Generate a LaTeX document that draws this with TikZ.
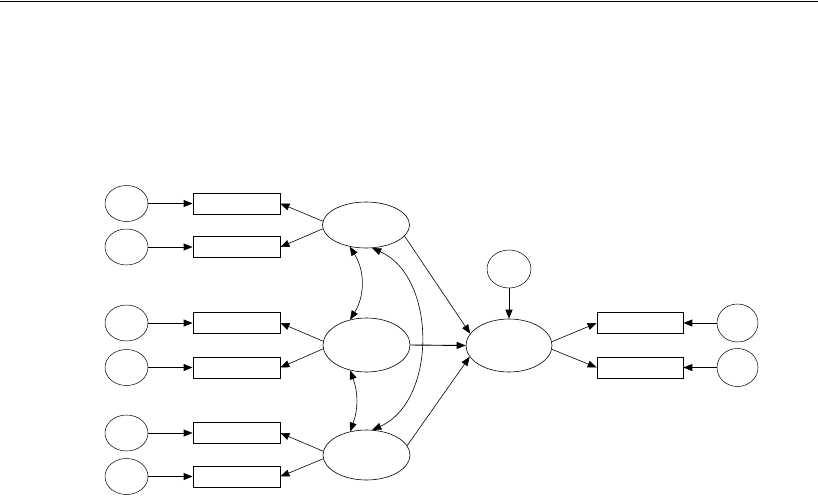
\documentclass[tikz,border=0pt]{standalone}
\usetikzlibrary{arrows.meta,shapes.geometric}
\begin{document}
\begin{tikzpicture}[x=1pt,y=-1pt,
  obs/.style={draw,rectangle,line width=0.8pt,minimum width=87pt,minimum height=21pt,inner sep=0pt},
  err/.style={draw,ellipse,line width=0.5pt,minimum width=43pt,minimum height=36pt,inner sep=0pt},
  lat/.style={draw,ellipse,line width=0.6pt,minimum width=87pt,inner sep=0pt},
  tip/.style={-{Triangle[length=9pt,width=7pt]}},
  eline/.style={tip,line width=0.9pt},
  pline/.style={tip,line width=0.6pt},
  cov/.style={{Triangle[length=9pt,width=7pt]}-{Triangle[length=9pt,width=7pt]},line width=0.6pt}]
\useasboundingbox (0,0) rectangle (818,496);
\draw[line width=1.3pt] (0,1.5) coordinate (lineL) -- (818,1.5) coordinate (lineR);
% left observed and errors
\foreach \i/\yy in {1/203.5,2/247,3/323,4/367.5,5/433,6/476.5}{
  \node[obs] (x\i) at (236.5,\yy) {};
  \node[err] (e\i) at (126.5,\yy) {};
  \draw[eline] (e\i) -- (x\i);
}
% latents
\node[lat,minimum height=46pt] (F1) at (366,225) {};
\node[lat,minimum height=54pt] (F2) at (366.5,345) {};
\node[lat,minimum height=50pt] (F3) at (366.5,455) {};
\node[lat,minimum width=86pt,minimum height=53pt] (Y) at (509,345.5) {};
\node[err,minimum width=44pt,minimum height=38pt] (D) at (509,269) {};
% right observed
\foreach \i/\yy in {1/323,2/367.5}{
  \node[obs,minimum width=86pt] (y\i) at (640,\yy) {};
  \node[err,minimum width=41pt,minimum height=38pt] (r\i) at (737.5,\yy) {};
  \draw[eline] (r\i) -- (y\i);
}
% loadings
\draw[pline] (F1.175) -- (x1.east);
\draw[pline] (F1.185) -- (x2.east);
\draw[pline] (F2.175) -- (x3.east);
\draw[pline] (F2.185) -- (x4.east);
\draw[pline] (F3.175) -- (x5.east);
\draw[pline] (F3.185) -- (x6.east);
\draw[pline] (Y.5) -- (y1.west);
\draw[pline] (Y.-5) -- (y2.west);
% structural
\draw[pline] (F1.-16) -- (Y.163);
\draw[tip,line width=0.9pt] (F2.east) -- (Y.west);
\draw[pline] (F3.13) -- (Y.196);
\draw[eline] (D.south) -- (Y.north);
% covariances
\draw[cov] (F1.233) to[bend left=32] (F2.123);
\draw[cov] (F2.237) to[bend left=20] (F3.125);
\draw[cov] (F1.285) to[bend left=66] (F3.77);
\end{tikzpicture}
\end{document}
